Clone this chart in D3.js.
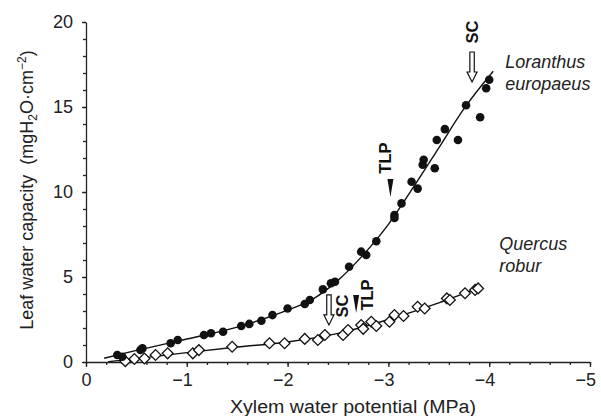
<!DOCTYPE html>
<html lang="en">
<head>
<meta charset="UTF-8">
<title>Leaf water capacity</title>
<script src="https://d3js.org/d3.v7.min.js"></script>
<style>
  body { margin: 0; background: #fff; }
  svg { display: block; font-family: "Liberation Sans", Arial, sans-serif; }
  .ax path, .ax line { stroke: #222; stroke-width: 1.3; }
  .ax text { font-size: 18px; fill: #222; }
</style>
</head>
<body>
<script>
// Loranthus europaeus (filled circles)
var lorX = [-0.31, -0.36, -0.54, -0.56, -0.84, -0.91, -1.17, -1.24, -1.36, -1.54, -1.62, -1.74, -1.85, -2.00,
            -2.17, -2.22, -2.35, -2.43, -2.47, -2.61, -2.73, -2.78, -2.88, -3.06, -3.06, -3.13, -3.23, -3.29,
            -3.34, -3.35, -3.46, -3.48, -3.56, -3.69, -3.77, -3.91, -3.97, -4.00];
var lorY = [0.41, 0.31, 0.71, 0.80, 1.10, 1.29, 1.59, 1.69, 1.78, 2.12, 2.24, 2.43, 2.76, 3.15,
            3.41, 3.65, 4.27, 4.63, 4.72, 5.60, 6.49, 6.29, 7.10, 8.65, 8.47, 9.33, 10.6, 10.2,
            11.6, 11.9, 11.4, 13.06, 13.7, 13.06, 15.1, 14.4, 16.1, 16.6];
// Quercus robur (open diamonds)
var querX = [-0.39, -0.48, -0.58, -0.69, -0.81, -1.06, -1.12, -1.45, -1.82, -1.97, -2.17, -2.30, -2.37, -2.55,
             -2.60, -2.73, -2.75, -2.83, -2.88, -3.01, -3.06, -3.15, -3.29, -3.36, -3.58, -3.61, -3.76, -3.86, -3.89];
var querY = [0.05, 0.18, 0.21, 0.41, 0.51, 0.51, 0.70, 0.90, 1.10, 1.10, 1.36, 1.29, 1.59, 1.59,
             1.88, 2.18, 1.95, 2.37, 2.12, 2.37, 2.76, 2.71, 3.25, 3.15, 3.74, 3.65, 4.04, 4.24, 4.33];
// fitted curves
var lorFitX = [-0.18, -0.5, -1.0, -1.5, -2.0, -2.25, -2.5, -2.75, -3.0, -3.25, -3.5, -3.75, -4.04];
var lorFitY = [0.22, 0.68, 1.35, 2.05, 3.05, 3.7, 4.8, 6.3, 8.1, 10.3, 12.6, 14.9, 17.1];
var querFitX = [-0.22, -0.5, -1.0, -1.5, -2.0, -2.5, -3.0, -3.5, -3.92];
var querFitY = [0.02, 0.2, 0.55, 0.88, 1.18, 1.68, 2.5, 3.48, 4.42];

var xTicks = [0, -1, -2, -3, -4, -5];
var yTicks = [0, 5, 10, 15, 20];

var W = 601, H = 416;
var svg = d3.select("body").append("svg").attr("width", W).attr("height", H);
svg.append("rect").attr("width", W).attr("height", H).attr("fill", "#fff");

var x = d3.scaleLinear().domain([0, -5]).range([86, 590]);
var y = d3.scaleLinear().domain([0, 20]).range([362, 22]);

// minor ticks first
svg.append("g").attr("class", "ax").attr("transform", "translate(0,362)")
  .call(d3.axisBottom(x).tickValues(d3.range(0, -5.01, -0.2)).tickSize(3).tickFormat(""))
  .call(g => g.select(".domain").remove());
svg.append("g").attr("class", "ax").attr("transform", "translate(86,0)")
  .call(d3.axisLeft(y).tickValues(d3.range(0, 20.01, 1)).tickSize(3).tickFormat(""))
  .call(g => g.select(".domain").remove());

var xa = svg.append("g").attr("class", "ax").attr("transform", "translate(0,362)")
  .call(d3.axisBottom(x).tickValues(xTicks).tickSize(5).tickSizeOuter(0).tickPadding(6)
    .tickFormat(d => d === 0 ? "0" : "\u2212" + Math.abs(d)));
xa.selectAll("text").attr("text-anchor", "end").attr("dx", function (d) { return d === 0 ? "5" : "5.5"; });

svg.append("g").attr("class", "ax").attr("transform", "translate(86,0)")
  .call(d3.axisLeft(y).tickValues(yTicks).tickSize(4).tickSizeOuter(0).tickPadding(9));

// axis titles
svg.append("text").attr("x", 353).attr("y", 413).attr("text-anchor", "middle")
  .attr("font-size", 18).attr("fill", "#222").attr("textLength", 246).attr("lengthAdjust", "spacingAndGlyphs")
  .text("Xylem water potential (MPa)");

var yt = svg.append("text").attr("transform", "translate(33,190) rotate(-90)")
  .attr("text-anchor", "middle").attr("font-size", 18).attr("fill", "#222");
yt.append("tspan").text("Leaf water capacity\u00a0\u00a0(mgH");
yt.append("tspan").attr("font-size", 12).attr("dy", 4).text("2");
yt.append("tspan").attr("dy", -4).text("O\u00b7cm");
yt.append("tspan").attr("font-size", 12).attr("dy", -7).text("\u22122");
yt.append("tspan").attr("dy", 7).text(")");

// fit lines
var line = d3.line().x(d => x(d[0])).y(d => y(d[1])).curve(d3.curveMonotoneX);
svg.append("path").datum(lorFitX.map((v, i) => [v, lorFitY[i]]))
  .attr("d", line).attr("fill", "none").attr("stroke", "#111").attr("stroke-width", 1.4);
svg.append("path").datum(querFitX.map((v, i) => [v, querFitY[i]]))
  .attr("d", line).attr("fill", "none").attr("stroke", "#111").attr("stroke-width", 1.4);

// points
svg.append("g").selectAll("path").data(querX.map((v, i) => [v, querY[i]])).join("path")
  .attr("d", d3.symbol().type(d3.symbolSquare).size(58))
  .attr("transform", d => "translate(" + x(d[0]) + "," + y(d[1]) + ") rotate(45)")
  .attr("fill", "#fff").attr("stroke", "#111").attr("stroke-width", 1.3);
svg.append("g").selectAll("circle").data(lorX.map((v, i) => [v, lorY[i]])).join("circle")
  .attr("cx", d => x(d[0])).attr("cy", d => y(d[1])).attr("r", 4.3).attr("fill", "#111");

// annotations: tip of arrow in data units, text offset in px
var notes = [
  { t: "SC",  kind: "open",   x: -3.83, y: 16.47, tx: 0,  ty: -50 },
  { t: "TLP", kind: "filled", x: -3.02, y: 9.7,   tx: -5, ty: -39 },
  { t: "SC",  kind: "open",   x: -2.41, y: 2.18,  tx: 14, ty: -19 },
  { t: "TLP", kind: "filled", x: -2.68, y: 2.88,  tx: 11, ty: -18 }
];
notes.forEach(function (n) {
  var px = x(n.x), py = y(n.y);
  var g = svg.append("g").attr("transform", "translate(" + px + "," + py + ")");
  if (n.kind === "open") {
    g.append("path").attr("d", "M0,0 L-5,-10 L-2.2,-10 L-2.2,-30 L2.2,-30 L2.2,-10 L5,-10 Z")
      .attr("fill", "#fff").attr("stroke", "#111").attr("stroke-width", 1.2);
  } else {
    g.append("path").attr("d", "M0,0 L-3,-18 L3,-18 Z").attr("fill", "#111");
  }
  g.append("text").attr("transform", "translate(" + (n.tx + 5.5) + "," + n.ty + ") rotate(-90)")
    .attr("text-anchor", "middle").attr("font-size", 16.5).attr("font-weight", "bold").attr("fill", "#111")
    .text(n.t);
});

// species labels
function label(lines, xv, yv) {
  var t = svg.append("text").attr("x", x(xv)).attr("y", y(yv))
    .attr("font-size", 18).attr("font-style", "italic").attr("fill", "#222");
  lines.forEach(function (s, i) {
    t.append("tspan").attr("x", x(xv)).attr("dy", i ? 22 : 0).text(s);
  });
}
label(["Loranthus", "europaeus"], -4.16, 17.3);
label(["Quercus", "robur"], -4.1, 6.6);
</script>
</body>
</html>
